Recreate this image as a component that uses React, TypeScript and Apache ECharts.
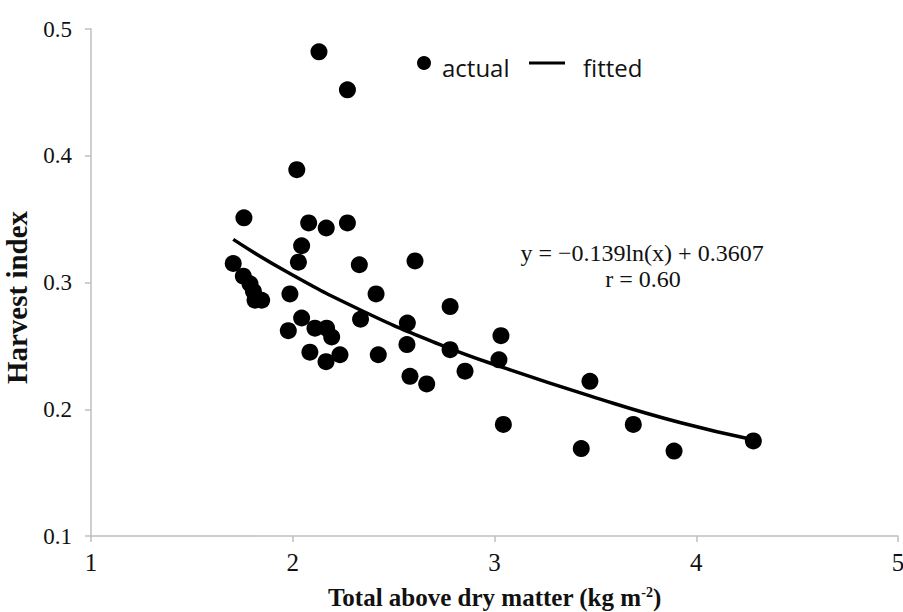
import React, { useEffect, useRef } from "react";
import * as echarts from "echarts";

const actualX = [
  2.13, 2.271, 2.02, 1.758, 2.079, 2.166, 2.271, 2.044, 2.028, 2.33, 2.606, 1.705,
  1.986, 2.413, 1.755, 1.788, 1.805, 1.813, 1.846, 2.044, 1.978, 2.11, 2.168, 2.193,
  2.085, 2.165, 2.234, 2.336, 2.424, 2.568, 2.566, 2.581, 2.664, 2.78, 2.78, 2.854,
  3.032, 3.022, 3.044, 3.473, 3.43, 3.688, 3.89, 4.283,
];
const actualY = [
  0.482, 0.452, 0.389, 0.351, 0.347, 0.343, 0.347, 0.329, 0.316, 0.314, 0.317, 0.315,
  0.291, 0.291, 0.305, 0.299, 0.293, 0.286, 0.286, 0.272, 0.262, 0.264, 0.264, 0.257,
  0.245, 0.2375, 0.243, 0.271, 0.243, 0.268, 0.251, 0.226, 0.22, 0.281, 0.247, 0.23,
  0.258, 0.239, 0.188, 0.222, 0.169, 0.188, 0.167, 0.175,
];
const fittedX = [1.705, 1.97, 2.333, 2.73, 3.06, 3.473, 3.919, 4.283];
const fittedY = [0.334, 0.3085, 0.2785, 0.251, 0.232, 0.2105, 0.1895, 0.176];
const xTicks = [1, 2, 3, 4, 5];
const yTicks = [0.1, 0.2, 0.3, 0.4, 0.5];
const equationLines = ["y = \u22120.139ln(x) + 0.3607", "r = 0.60"];

export default function App() {
  const ref = useRef<HTMLDivElement>(null);
  useEffect(() => {
    if (!ref.current) return;
    const chart = echarts.init(ref.current, undefined, { renderer: "svg" });
    const serif = "'Liberation Serif', 'Times New Roman', serif";
    const sans = "'Open Sans', sans-serif";
    const axisGray = "#bfbfbf";
    chart.setOption({
      animation: false,
      backgroundColor: "#ffffff",
      grid: { left: 91, right: 5, top: 29, bottom: 76, containLabel: false, outerBoundsMode: "none" },
      legend: [
        {
          data: [{ name: "actual", icon: "circle" }],
          left: 417,
          top: 55,
          padding: 0,
          itemWidth: 14,
          itemHeight: 14,
          formatter: "{t|{name}}",
          textStyle: {
            fontFamily: sans,
            fontSize: 24,
            color: "#111",
            rich: { t: { fontFamily: sans, fontSize: 24, color: "#111", padding: [8, 0, 0, 6] } },
          },
        },
        {
          data: [{ name: "fitted", icon: "rect" }],
          left: 529,
          top: 55,
          padding: 0,
          itemWidth: 36,
          itemHeight: 3,
          formatter: "{t|{name}}",
          textStyle: {
            fontFamily: sans,
            fontSize: 24,
            color: "#111",
            rich: { t: { fontFamily: sans, fontSize: 24, color: "#111", padding: [8, 0, 0, 13] } },
          },
        },
      ],
      xAxis: {
        type: "value",
        min: xTicks[0],
        max: xTicks[xTicks.length - 1],
        interval: 1,
        name: "Total above dry matter (kg m{sup|-2})",
        nameLocation: "middle",
        nameGap: 49,
        nameTextStyle: {
          fontFamily: serif,
          fontWeight: "bold",
          fontSize: 25,
          color: "#111",
          rich: {
            sup: { fontFamily: serif, fontWeight: "bold", fontSize: 14, verticalAlign: "top", color: "#111", padding: [0, 0, 9, 0] },
          },
        },
        axisLine: { lineStyle: { color: axisGray, width: 1.5 } },
        axisTick: { show: true, length: 6, lineStyle: { color: axisGray, width: 1.5 } },
        axisLabel: { fontFamily: serif, fontSize: 25, color: "#111", margin: 14 },
        splitLine: { show: false },
      },
      yAxis: {
        type: "value",
        min: yTicks[0],
        max: yTicks[yTicks.length - 1],
        interval: 0.1,
        name: "Harvest index",
        nameLocation: "middle",
        nameGap: 60,
        nameTextStyle: { fontFamily: serif, fontWeight: "bold", fontSize: 29, color: "#111", padding: [0, 30, 0, 0] },
        axisLine: { show: true, lineStyle: { color: axisGray, width: 1.5 } },
        axisTick: { show: true, length: 6, lineStyle: { color: axisGray, width: 1.5 } },
        axisLabel: { fontFamily: serif, fontSize: 23, color: "#111", margin: 19, formatter: (v: number) => v.toFixed(1) },
        splitLine: { show: false },
      },
      series: [
        {
          name: "actual",
          type: "scatter",
          symbol: "circle",
          symbolSize: 17,
          itemStyle: { color: "#000", opacity: 1 },
          data: actualX.map((x, i) => [x, actualY[i]]),
          z: 3,
        },
        {
          name: "fitted",
          type: "line",
          smooth: 0.5,
          showSymbol: false,
          symbol: "none",
          lineStyle: { color: "#000", width: 3.5 },
          itemStyle: { color: "#000" },
          data: fittedX.map((x, i) => [x, fittedY[i]]),
          z: 2,
        },
      ],
      graphic: [
        {
          type: "text",
          x: 642,
          y: 253,
          style: { text: equationLines[0], fontFamily: serif, fontSize: 24, fill: "#111", align: "center", verticalAlign: "middle" },
        },
        {
          type: "text",
          x: 643,
          y: 279,
          style: { text: equationLines[1], fontFamily: serif, fontSize: 24, fill: "#111", align: "center", verticalAlign: "middle" },
        },
      ],
    });
    return () => chart.dispose();
  }, []);
  return <div ref={ref} style={{ width: 903, height: 612, position: "absolute", left: 0, top: 0 }} />;
}
